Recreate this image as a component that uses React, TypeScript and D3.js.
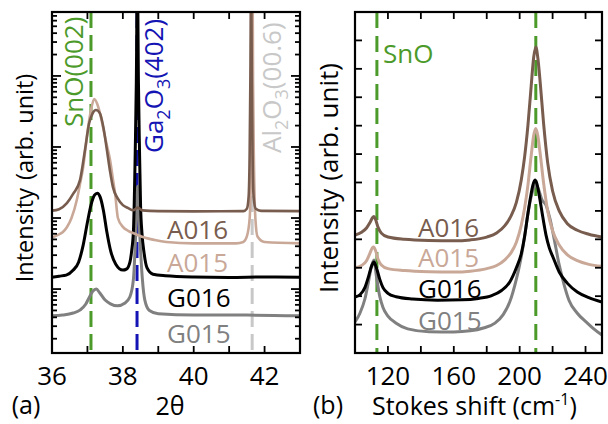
import React from "react";
import * as d3 from "d3";

type Pt = [number, number];

// (a) XRD 2θ scans — intensity in counts, log axis
const xrdA016: Pt[] = [
  [36.0, 127], [36.2, 133], [36.42, 162], [36.6, 220], [36.79, 342], [36.93, 903], [37.05, 2170],
  [37.15, 3000], [37.24, 3310], [37.35, 3000], [37.45, 1900], [37.55, 903], [37.64, 450], [37.72, 272],
  [37.85, 190], [38.0, 152], [38.15, 138], [38.29, 129], [38.42, 140], [38.55, 128], [39.0, 125],
  [40.0, 124], [41.4, 125], [41.5, 135], [41.55, 200], [41.58, 900], [41.6, 1e4], [41.62, 3e5],
  [41.64, 1e4], [41.66, 900], [41.69, 200], [41.75, 135], [41.9, 126], [43.0, 125],
];
const xrdA015: Pt[] = [
  [36.0, 53], [36.14, 57], [36.3, 63], [36.42, 74], [36.55, 100], [36.7, 179], [36.79, 300],
  [36.88, 521], [36.95, 1000], [37.02, 1900], [37.1, 3300], [37.19, 4730], [37.28, 4000], [37.36, 2900],
  [37.44, 1900], [37.54, 1100], [37.64, 653], [37.72, 350], [37.78, 224], [37.86, 100], [38.0, 75],
  [38.15, 66], [38.3, 61], [38.45, 57], [38.57, 54], [38.9, 49], [39.23, 46], [40.0, 44], [41.2, 44],
  [41.4, 46], [41.5, 55], [41.58, 100], [41.62, 600], [41.645, 8000], [41.66, 3e5], [41.675, 8000],
  [41.7, 600], [41.74, 100], [41.8, 55], [42.0, 46], [43.0, 44],
];
const xrdG016: Pt[] = [
  [36.0, 14.7], [36.2, 15.2], [36.4, 15.7], [36.6, 18.5], [36.75, 23.9], [36.88, 41.5], [37.0, 87],
  [37.1, 152], [37.2, 210], [37.28, 224], [37.36, 197], [37.45, 129], [37.55, 63], [37.65, 35.3],
  [37.8, 22.4], [38.0, 18.5], [38.1, 19.1], [38.2, 24], [38.25, 35], [38.3, 68], [38.35, 900],
  [38.38, 8000], [38.41, 3e5], [38.44, 8000], [38.47, 900], [38.5, 150], [38.54, 61], [38.6, 32],
  [38.68, 20], [38.85, 16.2], [39.2, 15.4], [40.0, 14.8], [41.0, 14.6], [42.0, 14.8], [43.0, 14.7],
];
const xrdG015: Pt[] = [
  [36.0, 4.2], [36.3, 4.3], [36.6, 4.6], [36.8, 5.1], [36.95, 6.1], [37.05, 7.6], [37.15, 9.3],
  [37.25, 10], [37.35, 8.8], [37.5, 7.0], [37.65, 6.2], [37.85, 5.8], [38.05, 6.3], [38.2, 7.8],
  [38.3, 14], [38.36, 55], [38.42, 280], [38.48, 55], [38.55, 14], [38.62, 7], [38.75, 5.0],
  [39.0, 4.5], [40.0, 4.3], [41.5, 4.3], [43.0, 4.2],
];

// (b) Raman spectra — stacked, arbitrary units
const ramanA016: Pt[] = [
  [100, 4.15], [104, 4.25], [107, 4.4], [109, 4.58], [110.5, 4.75], [111.5, 4.8], [112.5, 4.7],
  [114, 4.42], [116, 4.22], [120, 4.08], [130, 4.0], [145, 3.96], [160, 3.95], [170, 3.98],
  [180, 4.08], [186, 4.22], [191, 4.48], [195, 4.85], [198, 5.3], [201, 6.1], [203, 6.9], [205, 8.0],
  [207, 9.4], [208.5, 10.4], [209.8, 10.77], [211, 10.4], [212.5, 9.5], [214.5, 8.1], [217, 6.7],
  [220, 5.7], [224, 5.0], [229, 4.55], [235, 4.32], [242, 4.18], [250, 4.08],
];
const ramanA015: Pt[] = [
  [100, 3.0], [104, 3.08], [107, 3.25], [109, 3.5], [110.5, 3.7], [111.3, 3.73], [112.5, 3.6],
  [114, 3.3], [116, 3.1], [120, 2.97], [130, 2.9], [145, 2.86], [160, 2.85], [170, 2.88], [180, 2.97],
  [186, 3.08], [191, 3.28], [195, 3.55], [198, 3.9], [201, 4.5], [203, 5.1], [205, 5.9], [207, 6.95],
  [208.5, 7.65], [209.8, 7.9], [211, 7.65], [212.5, 7.0], [214.5, 6.0], [217, 5.0], [220, 4.3],
  [224, 3.8], [229, 3.45], [235, 3.25], [242, 3.12], [250, 3.05],
];
const ramanG016: Pt[] = [
  [100, 1.97], [103, 2.05], [106, 2.3], [108, 2.65], [110, 3.05], [111.5, 3.2], [113, 3.0], [115, 2.6],
  [117, 2.3], [120, 2.1], [125, 1.98], [135, 1.9], [150, 1.86], [165, 1.87], [175, 1.92], [183, 2.02],
  [189, 2.2], [194, 2.5], [198, 3.0], [201, 3.5], [203, 4.1], [205, 4.9], [206.5, 5.45], [208, 5.9],
  [209.3, 6.09], [210.5, 5.95], [212.3, 5.4], [214, 4.8], [216, 4.15], [218, 3.7], [220.2, 3.38],
  [224, 2.85], [229, 2.45], [235, 2.15], [242, 1.95], [250, 1.79],
];
const ramanG015: Pt[] = [
  [100, 1.09], [103, 1.4], [106, 1.9], [108, 2.45], [110, 3.05], [111.5, 3.27], [113, 2.7], [115, 2.0],
  [117, 1.6], [120, 1.3], [125, 1.05], [132, 0.85], [145, 0.75], [160, 0.74], [170, 0.78], [178, 0.88],
  [185, 1.05], [190, 1.35], [194, 1.8], [198, 2.6], [201, 3.4], [203, 4.1], [205, 4.9], [207, 5.5],
  [208.5, 5.8], [210, 5.9], [211.5, 5.75], [213.5, 5.4], [216, 5.2], [218.5, 4.7], [221, 4.0],
  [224, 3.1], [227, 2.4], [230, 1.85], [235, 1.4], [241, 1.06], [245, 0.85], [250, 0.63],
];

const samples = ["A016", "A015", "G016", "G015"];
const colors = ["#785c4e", "#c9a898", "#000000", "#808080"];
const xrdSeries = [xrdA016, xrdA015, xrdG016, xrdG015];
const ramanSeries = [ramanA016, ramanA015, ramanG016, ramanG015];

const xrdXTicks = [36, 38, 40, 42];
const ramanXTicks = [120, 160, 200, 240];
const xrdRefs = [
  { pos: 37.1, color: "#4c9a2a" },
  { pos: 38.4, color: "#1414b4" },
  { pos: 41.65, color: "#c8c8c8" },
];
const ramanRefs = [113.3, 209.8];

const font = "'Open Sans', 'Noto Sans', sans-serif";
const green = "#4c9a2a";

export default function App() {
  const top = 12, bottom = 353;
  const xa = d3.scaleLinear().domain([36, 43]).range([52, 300]);
  const ya = d3.scaleLog().domain([10 ** 0.1, 10 ** 4.9]).range([bottom, top]);
  const xb = d3.scaleLinear().domain([100, 250]).range([355, 602]);
  const yb = d3.scaleLinear().domain([0, 12]).range([bottom, top]);

  const lineA = d3.line<Pt>().x((d) => xa(d[0])).y((d) => ya(d[1])).curve(d3.curveMonotoneX);
  const lineB = d3.line<Pt>().x((d) => xb(d[0])).y((d) => yb(d[1])).curve(d3.curveMonotoneX);

  const order = [3, 2, 1, 0]; // G015 drawn first, A016 on top
  const tk = 7;

  return (
    <svg width={608} height={424} style={{ position: "absolute", left: 0, top: 0 }} fontFamily={font}>
      <rect width={608} height={424} fill="#fff" />
      <defs>
        <clipPath id="clipA"><rect x={xa(36)} y={top} width={xa(43) - xa(36)} height={bottom - top} /></clipPath>
        <clipPath id="clipB"><rect x={xb(100)} y={top} width={xb(250) - xb(100)} height={bottom - top} /></clipPath>
      </defs>

      {/* ---------- panel (a) ---------- */}
      <g clipPath="url(#clipA)">
        {xrdRefs.map((r) => (
          <line key={r.pos} x1={xa(r.pos)} x2={xa(r.pos)} y1={top} y2={bottom} stroke={r.color} strokeWidth={3} strokeDasharray="16,7" />
        ))}
        {order.map((i) => (
          <path key={i} d={lineA(xrdSeries[i]) || ""} fill="none" stroke={colors[i]} strokeWidth={i >= 2 ? 3 : 2.6} strokeLinejoin="round" />
        ))}
      </g>
      {/* log ticks, both sides */}
      {ya.ticks().map((v, i) => {
        const lg = Math.log10(v);
        const major = Math.abs(lg - Math.round(lg)) < 1e-6;
        const len = major ? 9 : 5;
        const y = ya(v);
        return (
          <g key={"ya" + i} stroke="#000" strokeWidth={1.8}>
            <line x1={xa(36)} x2={xa(36) + len} y1={y} y2={y} />
            <line x1={xa(43)} x2={xa(43) - len} y1={y} y2={y} />
          </g>
        );
      })}
      {d3.range(37, 43).map((t) => (
        <g key={"xa" + t} stroke="#000" strokeWidth={1.8}>
          <line x1={xa(t)} x2={xa(t)} y1={bottom} y2={bottom - tk} />
          <line x1={xa(t)} x2={xa(t)} y1={top} y2={top + tk} />
        </g>
      ))}
      <rect x={xa(36)} y={top} width={xa(43) - xa(36)} height={bottom - top} fill="none" stroke="#000" strokeWidth={2.2} />
      {xrdXTicks.map((t) => (
        <text key={"la" + t} x={xa(t)} y={385} textAnchor="middle" fontSize={26}>{t}</text>
      ))}
      <text x={26} y={414} fontSize={25} textAnchor="middle">(a)</text>
      <text x={170} y={415} fontSize={25} textAnchor="middle">2θ</text>
      <text transform="translate(33,178) rotate(-90)" fontSize={23.5} textAnchor="middle">
        Intensity<tspan dx={8}>(arb. unit)</tspan>
      </text>

      {/* peak labels */}
      <text transform="translate(83,127) rotate(-90)" fontSize={26} fill={green}>SnO(002)</text>
      <text transform="translate(163,153) rotate(-90)" fontSize={26} fill="#1414b4">
        Ga<tspan fontSize={18} dy={7}>2</tspan><tspan dy={-7}>O</tspan><tspan fontSize={18} dy={7}>3</tspan><tspan dy={-7}>(402)</tspan>
      </text>
      <text transform="translate(281,153) rotate(-90)" fontSize={26} fill="#c8c8c8">
        Al<tspan fontSize={18} dy={7}>2</tspan><tspan dy={-7}>O</tspan><tspan fontSize={18} dy={7}>3</tspan><tspan dy={-7}>(00.6)</tspan>
      </text>

      {/* sample labels */}
      {samples.map((s, i) => (
        <text key={"sa" + s} x={167} y={[239, 272, 307, 343][i]} fontSize={26} fill={colors[i]}>{s}</text>
      ))}

      {/* ---------- panel (b) ---------- */}
      <g clipPath="url(#clipB)">
        {ramanRefs.map((r) => (
          <line key={r} x1={xb(r)} x2={xb(r)} y1={top} y2={bottom} stroke={green} strokeWidth={3} strokeDasharray="16,8" />
        ))}
        {order.map((i) => (
          <path key={i} d={lineB(ramanSeries[i]) || ""} fill="none" stroke={colors[i]} strokeWidth={3} strokeLinejoin="round" />
        ))}
      </g>
      {d3.range(1, 12).map((t) => (
        <g key={"yb" + t} stroke="#000" strokeWidth={1.8}>
          <line x1={xb(100)} x2={xb(100) + tk} y1={yb(t)} y2={yb(t)} />
          <line x1={xb(250)} x2={xb(250) - tk} y1={yb(t)} y2={yb(t)} />
        </g>
      ))}
      {d3.range(120, 250, 20).map((t) => (
        <g key={"xb" + t} stroke="#000" strokeWidth={1.8}>
          <line x1={xb(t)} x2={xb(t)} y1={bottom} y2={bottom - tk} />
          <line x1={xb(t)} x2={xb(t)} y1={top} y2={top + tk} />
        </g>
      ))}
      <rect x={xb(100)} y={top} width={xb(250) - xb(100)} height={bottom - top} fill="none" stroke="#000" strokeWidth={2.2} />
      {ramanXTicks.map((t) => (
        <text key={"lb" + t} x={xb(t)} y={385} textAnchor="middle" fontSize={26}>{t}</text>
      ))}
      <text x={328} y={414} fontSize={25} textAnchor="middle">(b)</text>
      <text x={372} y={415} fontSize={25}>
        Stokes shift (cm<tspan fontSize={16} dy={-10}>-1</tspan><tspan dy={10}>)</tspan>
      </text>
      <text transform="translate(338,178) rotate(-90)" fontSize={26} textAnchor="middle">
        Intensity<tspan dx={8}>(arb. unit)</tspan>
      </text>
      <text x={383} y={63} fontSize={26} fill={green}>SnO</text>
      {samples.map((s, i) => (
        <text key={"sb" + s} x={418} y={[237, 267, 298, 330][i]} fontSize={26} fill={colors[i]}>{s}</text>
      ))}
    </svg>
  );
}
